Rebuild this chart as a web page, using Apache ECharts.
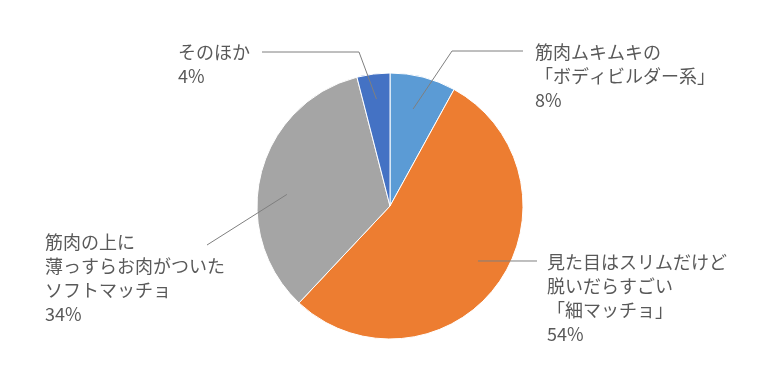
<!DOCTYPE html>
<html><head><meta charset="utf-8">
<script src="https://cdn.jsdelivr.net/npm/echarts@6/dist/echarts.min.js"></script>
<style>html,body{margin:0;padding:0;background:#fff}#c{width:779px;height:374px}</style>
</head><body><div id="c"></div>
<script>
const categories = ['筋肉ムキムキの\n「ボディビルダー系」', '見た目はスリムだけど\n脱いだらすごい\n「細マッチョ」', '筋肉の上に\n薄っすらお肉がついた\nソフトマッチョ', 'そのほか'];
const values = [8, 54, 34, 4];
const colors = ['#5B9BD5', '#ED7D31', '#A5A5A5', '#4472C4'];

const CX = 390, CY = 206, R = 133;
// label layout: text anchor (left,top), leader start (fraction of radius, angle tweak in degrees), elbow, end
const labelPos = [
  {x: 535, y: 40, f: 0.75, da: -1, elbow: [452, 51], end: [523, 51]},
  {x: 547, y: 250, f: 0.78, da: -4, elbow: null, end: [537, 261]},
  {x: 45, y: 230, f: 0.78, da: -8, elbow: null, end: [207, 245]},
  {x: 178, y: 40, f: 0.81, da: 0, elbow: [359, 52], end: [262, 52]}
];
const total = values.reduce((a, b) => a + b, 0);
const mids = [];
let acc = 0;
values.forEach(v => { mids.push((acc + v / 2) / total * 2 * Math.PI); acc += v; });

const base = {
  type: 'pie', center: [CX, CY], radius: R, startAngle: 90, clockwise: true
};
const chart = echarts.init(document.getElementById('c'));
chart.setOption({
  animation: false,
  series: [
    Object.assign({}, base, {
      z: 2,
      itemStyle: {borderColor: '#fff', borderWidth: 1},
      label: {show: false}, labelLine: {show: false},
      data: categories.map((n, i) => ({name: n, value: values[i], itemStyle: {color: colors[i]}}))
    }),
    Object.assign({}, base, {
      z: 5, silent: true,
      itemStyle: {color: 'rgba(0,0,0,0)', borderWidth: 0},
      data: categories.map((n, i) => ({name: n, value: values[i]})),
      label: {
        show: true, position: 'outside',
        formatter: p => p.name + '\n' + p.value + '%',
        fontFamily: '"Noto Sans CJK JP", sans-serif', fontSize: 18, lineHeight: 24,
        color: '#595959'
      },
      labelLine: {show: true, showAbove: true, lineStyle: {color: '#7f7f7f', width: 1, opacity: 1}},
      labelLayout: function (params) {
        const i = params.dataIndex;
        const L = labelPos[i];
        const a = mids[i] + L.da * Math.PI / 180;
        const sx = CX + Math.sin(a) * R * L.f, sy = CY - Math.cos(a) * R * L.f;
        const mid = L.elbow || [(sx + L.end[0]) / 2, (sy + L.end[1]) / 2];
        return {x: L.x, y: L.y, align: 'left', verticalAlign: 'top', labelLinePoints: [[sx, sy], mid, L.end]};
      }
    })
  ]
});
</script></body></html>
